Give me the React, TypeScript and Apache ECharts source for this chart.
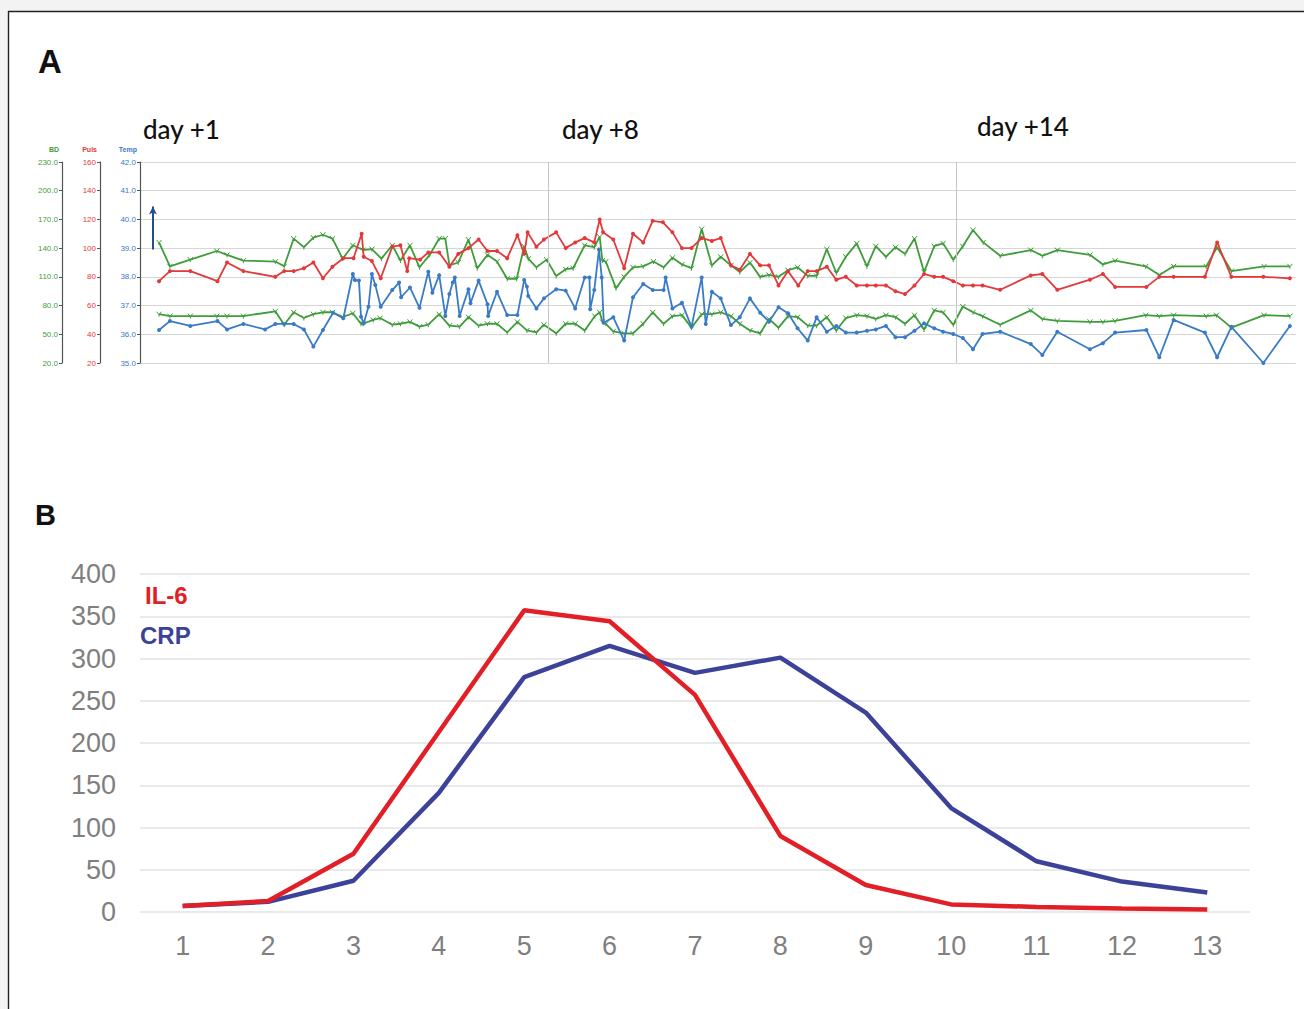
import React, { useEffect, useRef } from "react";
import * as echarts from "echarts";

// ---------- Panel A data (x = day offset, y in each series' own unit) ----------
const sysTimes = [0.28,0.44,0.74,1.13,1.28,1.52,1.99,2.12,2.26,2.41,2.55,2.69,2.83,2.98,3.13,3.28,3.41,3.55,3.71,3.83,3.97,4.11,4.26,4.40,4.49,4.55,4.68,4.83,4.96,5.11,5.25,5.40,5.54,5.65,5.71,5.83,5.98,6.12,6.26,6.37,6.54,6.68,6.76,6.80,6.85,7.00,7.12,7.25,7.40,7.55,7.70,7.83,7.97,8.11,8.26,8.41,8.54,8.69,8.82,8.97,9.12,9.25,9.39,9.53,9.67,9.82,9.95,10.10,10.24,10.38,10.54,10.69,10.82,10.97,11.11,11.25,11.39,11.53,11.68,11.81,11.96,12.10,12.25,12.40,12.65,13.10,13.27,13.49,13.97,14.16,14.34,14.79,14.99,15.20,15.68,15.84,16.05,16.53,16.91];
const sysValues = [146,121,128,137,133,127,126,121,150,141,151,154,150,129,143,138,139,129,143,127,143,120,133,150,150,122,125,149,119,133,126,108,108,142,129,120,128,111,118,119,143,141,152,127,126,98,110,120,121,126,120,130,123,119,160,122,131,122,115,125,110,112,110,117,120,111,111,139,114,131,145,121,142,131,141,134,150,115,142,145,128,142,159,146,132,138,132,138,133,123,127,121,112,121,121,141,116,121,121];

const pulseTimes = [0.28,0.44,0.74,1.14,1.28,1.52,1.99,2.12,2.26,2.41,2.55,2.69,2.83,2.99,3.14,3.26,3.29,3.41,3.54,3.71,3.83,3.93,3.96,4.12,4.24,4.40,4.55,4.68,4.83,4.98,5.11,5.25,5.40,5.55,5.65,5.70,5.83,5.94,6.12,6.26,6.40,6.54,6.68,6.76,6.81,6.96,7.12,7.25,7.40,7.54,7.69,7.83,7.97,8.11,8.26,8.41,8.54,8.69,8.82,8.97,9.12,9.25,9.39,9.53,9.68,9.82,9.95,10.10,10.24,10.38,10.54,10.69,10.82,10.97,11.11,11.25,11.39,11.53,11.68,11.81,11.96,12.10,12.25,12.39,12.65,13.10,13.27,13.49,13.97,14.16,14.34,14.80,14.99,15.20,15.66,15.84,16.05,16.52,16.91];
const pulseValues = [77,84,84,77,90,84,80,84,84,86,90,79,87,93,93,110,94,91,79,101,102,84,93,92,97,97,87,96,100,106,98,98,93,109,96,111,101,106,111,100,104,107,104,120,111,106,86,110,104,119,118,111,100,100,107,105,107,88,85,96,88,88,74,84,74,84,84,87,78,80,74,74,74,74,70,68,74,82,80,80,77,74,74,74,71,81,82,71,78,82,73,73,80,80,80,104,80,80,79];

const diaTimes = [0.28,0.44,0.74,1.13,1.28,1.52,1.99,2.12,2.26,2.41,2.55,2.69,2.83,2.98,3.13,3.25,3.28,3.43,3.53,3.71,3.83,3.97,4.11,4.24,4.40,4.55,4.70,4.83,4.98,5.11,5.25,5.40,5.55,5.69,5.83,5.94,6.12,6.26,6.40,6.54,6.69,6.76,6.80,6.85,6.96,7.12,7.25,7.40,7.54,7.70,7.83,7.97,8.11,8.26,8.41,8.54,8.69,8.82,8.97,9.12,9.25,9.39,9.53,9.67,9.82,9.95,10.10,10.24,10.38,10.54,10.69,10.82,10.97,11.11,11.25,11.39,11.53,11.68,11.81,11.96,12.10,12.25,12.39,12.65,13.10,13.27,13.49,13.97,14.16,14.34,14.79,14.99,15.20,15.68,15.83,16.05,16.53,16.91];
const diaValues = [71,69,69,69,69,69,74,60,73,67,71,73,73,68,72,61,61,65,67,60,61,63,58,60,71,59,58,68,59,61,61,52,63,54,52,60,51,61,61,54,69,73,63,61,53,51,51,61,73,61,69,70,57,71,71,73,69,61,54,51,66,57,69,68,59,59,68,54,67,70,69,66,70,68,61,70,55,75,73,60,79,73,69,60,75,66,64,63,63,64,70,69,70,69,70,57,70,69];

const tempTimes = [0.28,0.44,0.74,1.14,1.28,1.52,1.84,1.99,2.12,2.26,2.41,2.55,2.69,2.84,2.99,3.13,3.16,3.22,3.25,3.29,3.36,3.41,3.46,3.54,3.71,3.81,3.84,3.97,4.11,4.24,4.30,4.40,4.49,4.55,4.60,4.63,4.70,4.83,4.86,4.98,5.11,5.12,5.25,5.40,5.55,5.65,5.69,5.71,5.83,5.94,6.12,6.26,6.40,6.54,6.61,6.62,6.68,6.75,6.79,6.82,6.96,7.12,7.25,7.40,7.54,7.70,7.73,7.83,7.97,8.11,8.26,8.32,8.41,8.54,8.69,8.82,8.97,9.12,9.25,9.39,9.53,9.67,9.82,9.95,10.10,10.24,10.38,10.54,10.69,10.82,10.97,11.11,11.25,11.39,11.53,11.68,11.81,11.96,12.10,12.25,12.39,12.65,13.10,13.27,13.49,13.97,14.16,14.34,14.80,14.99,15.20,15.66,15.84,16.05,16.52,16.91];
const tempValues = [36.15,36.46,36.29,36.46,36.17,36.36,36.17,36.36,36.36,36.36,36.17,35.57,36.15,36.75,36.56,38.10,37.89,37.87,36.61,36.38,36.96,38.10,37.72,36.96,37.54,37.80,37.29,37.63,36.92,38.18,37.45,38.06,36.64,37.40,37.80,37.98,36.64,37.57,37.08,37.87,37.05,36.64,37.48,36.67,36.67,37.89,37.66,37.33,36.90,37.25,37.57,37.52,36.90,37.98,37.98,36.87,37.54,38.95,37.98,36.40,36.59,35.78,37.29,37.75,37.54,37.54,37.98,36.90,37.10,36.26,37.98,36.36,37.48,37.25,36.32,36.59,37.25,36.75,36.44,36.94,36.73,36.21,35.78,36.59,36.09,36.29,36.06,36.06,36.12,36.17,36.29,35.90,35.90,36.12,36.38,36.21,36.09,36.01,35.87,35.48,36.01,36.09,35.66,35.28,36.09,35.48,35.69,36.06,36.15,35.20,36.50,36.06,35.20,36.26,35.00,36.29];

// fever arrow (start / end temperature at its day position)
const arrowDay = 0.19;
const arrowFrom = 38.95;
const arrowTo = 40.45;

// day separators and labels
const dayLines = [6, 12];
const dayLabels = ["day +1", "day +8", "day +14"];

// ---------- Panel B data ----------
const labDays = ["1", "2", "3", "4", "5", "6", "7", "8", "9", "10", "11", "12", "13"];
const il6Values = [7, 13, 69, 213, 357, 344, 257, 90, 32, 9, 6, 4, 3];
const crpValues = [7, 12, 37, 141, 278, 315, 283, 301, 236, 123, 60, 36, 23];

const GREEN = "#3f9c3a";
const RED = "#e2393b";
const BLUE = "#3a7bc6";
const IL6_RED = "#e21f26";
const CRP_BLUE = "#3d4299";
const SMALL_FONT = "Liberation Sans";

const zip = (xs: number[], ys: number[]) => {
  const n = Math.min(xs.length, ys.length);
  const out: number[][] = [];
  for (let i = 0; i < n; i++) out.push([xs[i], ys[i]]);
  return out;
};

const vitalAxis = (
  name: string,
  color: string,
  min: number,
  max: number,
  interval: number,
  offset: number,
  decimals: number,
  grid: boolean
) => ({
  type: "value",
  gridIndex: 0,
  position: "left",
  offset,
  min,
  max,
  interval,
  name,
  nameLocation: "end",
  nameGap: 9,
  nameTextStyle: {
    color,
    fontSize: 7,
    fontWeight: "bold",
    align: "right",
    padding: [0, 3, 0, 0],
    fontFamily: SMALL_FONT,
  },
  axisLine: { show: true, lineStyle: { color: "#555", width: 1.2 } },
  axisTick: { show: true, length: 3, lineStyle: { color: "#555" } },
  axisLabel: {
    color,
    fontSize: 8,
    margin: 4,
    fontFamily: SMALL_FONT,
    formatter: (v: number) => v.toFixed(decimals),
  },
  splitLine: { show: grid, lineStyle: { color: "#d6d6d6", width: 1 } },
});

const greenMark = "path://M0,0L5,6L10,0M5,6L5,10";

export default function App() {
  const ref = useRef<HTMLDivElement>(null);

  useEffect(() => {
    document.body.style.margin = "0";
    const chart = echarts.init(ref.current!, null, { renderer: "svg" });

    const option: any = {
      animation: false,
      backgroundColor: "#ffffff",
      grid: [
        { left: 140, top: 162, width: 1156, height: 201 },
        { left: 140, top: 574, width: 1110, height: 338 },
      ],
      xAxis: [
        {
          type: "value",
          gridIndex: 0,
          min: 0,
          max: 17,
          axisLine: { show: false },
          axisTick: { show: false },
          axisLabel: { show: false },
          splitLine: { show: false },
        },
        {
          type: "category",
          gridIndex: 1,
          data: labDays,
          boundaryGap: true,
          axisLine: { show: false },
          axisTick: { show: false },
          axisLabel: {
            fontSize: 27,
            color: "#7f7f7f",
            margin: 20,
            fontFamily: "Liberation Sans",
          },
        },
      ],
      yAxis: [
        vitalAxis("Temp", BLUE, 35, 42, 1, 0, 1, true),
        vitalAxis("Puls", RED, 20, 160, 20, 40, 0, false),
        vitalAxis("BD", GREEN, 20, 230, 30, 78, 1, false),
        {
          type: "value",
          gridIndex: 1,
          min: 0,
          max: 400,
          interval: 50,
          axisLine: { show: false },
          axisTick: { show: false },
          axisLabel: {
            fontSize: 27,
            color: "#7f7f7f",
            margin: 24,
            fontFamily: "Liberation Sans",
          },
          splitLine: { lineStyle: { color: "#e2e2e2", width: 1.5 } },
        },
      ],
      series: [
        {
          name: "BD diastolic",
          type: "line",
          xAxisIndex: 0,
          yAxisIndex: 2,
          data: zip(diaTimes, diaValues),
          symbol: greenMark,
          symbolSize: 5,
          itemStyle: { color: "none", borderColor: GREEN, borderWidth: 1 },
          lineStyle: { color: GREEN, width: 1.8 },
          z: 3,
          markLine: {
            silent: true,
            symbol: "none",
            label: { show: false },
            lineStyle: { color: "#c6c6c6", width: 1, type: "solid" },
            data: dayLines.map((d) => ({ xAxis: d })),
          },
        },
        {
          name: "BD systolic",
          type: "line",
          xAxisIndex: 0,
          yAxisIndex: 2,
          data: zip(sysTimes, sysValues),
          symbol: greenMark,
          symbolSize: 5,
          itemStyle: { color: "none", borderColor: GREEN, borderWidth: 1 },
          lineStyle: { color: GREEN, width: 1.8 },
          z: 3,
        },
        {
          name: "Puls",
          type: "line",
          xAxisIndex: 0,
          yAxisIndex: 1,
          data: zip(pulseTimes, pulseValues),
          symbol: "circle",
          symbolSize: 4,
          itemStyle: { color: RED },
          lineStyle: { color: RED, width: 1.8 },
          z: 4,
        },
        {
          name: "Temp",
          type: "line",
          xAxisIndex: 0,
          yAxisIndex: 0,
          data: zip(tempTimes, tempValues),
          symbol: "circle",
          symbolSize: 4,
          itemStyle: { color: BLUE },
          lineStyle: { color: BLUE, width: 1.8 },
          z: 5,
          markLine: {
            silent: true,
            symbol: ["none", "arrow"],
            symbolSize: [6, 8],
            label: { show: false },
            lineStyle: { color: "#1f4f8e", width: 2, type: "solid" },
            data: [[{ coord: [arrowDay, arrowFrom] }, { coord: [arrowDay, arrowTo] }]],
          },
        },
        {
          name: "IL-6",
          type: "line",
          xAxisIndex: 1,
          yAxisIndex: 3,
          data: il6Values,
          symbol: "none",
          itemStyle: { color: IL6_RED },
          lineStyle: { color: IL6_RED, width: 4.5 },
          z: 4,
        },
        {
          name: "CRP",
          type: "line",
          xAxisIndex: 1,
          yAxisIndex: 3,
          data: crpValues,
          symbol: "none",
          itemStyle: { color: CRP_BLUE },
          lineStyle: { color: CRP_BLUE, width: 4.5 },
          z: 3,
        },
      ],
      graphic: [
        { type: "rect", shape: { x: 0, y: 0, width: 1304, height: 11 }, style: { fill: "#f3f3f3" }, silent: true },
        { type: "rect", shape: { x: 0, y: 0, width: 8, height: 1009 }, style: { fill: "#f3f3f3" }, silent: true },
        { type: "line", shape: { x1: 8, y1: 11.5, x2: 1304, y2: 11.5 }, style: { stroke: "#222", lineWidth: 1.4 }, silent: true },
        { type: "line", shape: { x1: 8.5, y1: 11, x2: 8.5, y2: 1009 }, style: { stroke: "#222", lineWidth: 1.4 }, silent: true },
        {
          type: "text",
          left: 38,
          top: 45,
          style: { text: "A", fill: "#111", font: "bold 33px 'Liberation Sans'" },
        },
        {
          type: "text",
          left: 35,
          top: 500,
          style: { text: "B", fill: "#111", font: "bold 29px 'Liberation Sans'" },
        },
        {
          type: "text",
          x: 143,
          y: 129,
          style: { text: dayLabels[0], fill: "#111", font: "500 26px Lato", verticalAlign: "middle" },
        },
        {
          type: "text",
          x: 562,
          y: 129,
          style: { text: dayLabels[1], fill: "#111", font: "500 26px Lato", verticalAlign: "middle" },
        },
        {
          type: "text",
          x: 977,
          y: 126,
          style: { text: dayLabels[2], fill: "#111", font: "500 26px Lato", verticalAlign: "middle" },
        },
        {
          type: "text",
          x: 145,
          y: 595,
          style: { text: "IL-6", fill: IL6_RED, font: "bold 24px 'Liberation Sans'", verticalAlign: "middle" },
        },
        {
          type: "text",
          x: 140,
          y: 635,
          style: { text: "CRP", fill: CRP_BLUE, font: "bold 24px 'Liberation Sans'", verticalAlign: "middle" },
        },
      ],
    };

    chart.setOption(option);
    return () => chart.dispose();
  }, []);

  return (
    <div
      ref={ref}
      style={{ position: "absolute", left: 0, top: 0, width: 1304, height: 1009 }}
    />
  );
}
